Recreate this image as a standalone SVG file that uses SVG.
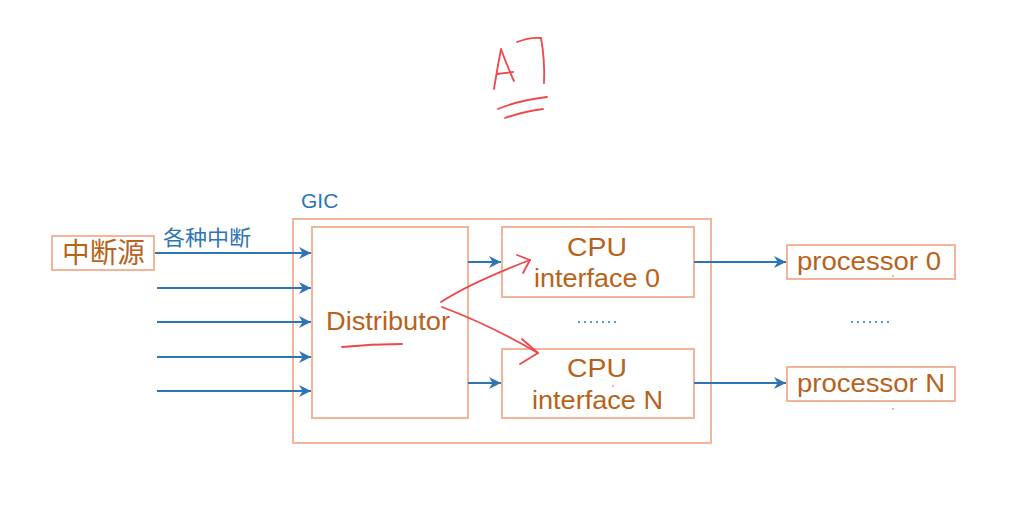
<svg xmlns="http://www.w3.org/2000/svg" width="1024" height="510" viewBox="0 0 1024 510">
<style>
.box{fill:#fff;stroke:#F4B49A;stroke-width:2}
.t{font-family:"Liberation Sans",Arial,sans-serif;fill:#B8621B;font-size:25px}
.cn{font-family:"Noto Sans CJK SC","Liberation Sans",sans-serif;fill:#B8621B;font-size:28px}
.lbl{font-family:"Noto Sans CJK SC","Liberation Sans",sans-serif;fill:#2E75B6;font-size:21px}
.conn{stroke:#2E75B6;stroke-width:2;fill:none;marker-end:url(#ah)}
.dots{stroke:#2E75B6;stroke-width:1.6;stroke-dasharray:2 4;fill:none}
.hand{stroke:#F0474A;stroke-width:1.8;fill:none;stroke-linecap:round;stroke-linejoin:round}
</style>
<defs>
<marker id="ah" viewBox="0 0 10 10" refX="10" refY="5" markerWidth="6" markerHeight="6" orient="auto" markerUnits="strokeWidth">
<path d="M0,0 L10,5 L0,10 L3,5 z" fill="#2E75B6"/>
</marker>
</defs>
<rect width="1024" height="510" fill="#fff"/>
<g id="gic">
<rect class="box" x="293" y="219" width="418" height="224"/>
<text x="301" y="208" class="lbl" style="font-family:'Liberation Sans',sans-serif">GIC</text>
</g>
<g id="source">
<rect class="box" x="52" y="236" width="102" height="34"/>
<text x="62" y="263" class="cn" textLength="83" lengthAdjust="spacingAndGlyphs">中断源</text>
</g>
<g id="distributor">
<rect class="box" x="312" y="227" width="156" height="191"/>
<text x="326" y="330" class="t" textLength="124" lengthAdjust="spacingAndGlyphs">Distributor</text>
</g>
<g id="cpu0">
<rect class="box" x="502" y="227" width="192" height="70"/>
<text x="567" y="256" class="t" textLength="60" lengthAdjust="spacingAndGlyphs">CPU</text>
<text x="534" y="287" class="t" textLength="126" lengthAdjust="spacingAndGlyphs">interface 0</text>
</g>
<g id="cpuN">
<rect class="box" x="502" y="349" width="192" height="69"/>
<text x="567" y="377" class="t" textLength="60" lengthAdjust="spacingAndGlyphs">CPU</text>
<text x="532" y="409" class="t" textLength="131" lengthAdjust="spacingAndGlyphs">interface N</text>
</g>
<g id="proc0">
<rect class="box" x="787" y="245" width="168" height="34"/>
<text x="797" y="270" class="t" textLength="144" lengthAdjust="spacingAndGlyphs">processor 0</text>
</g>
<g id="procN">
<rect class="box" x="787" y="367" width="168" height="34"/>
<text x="797" y="392" class="t" textLength="148" lengthAdjust="spacingAndGlyphs">processor N</text>
</g>
<g id="connectors">
<text x="163" y="245" class="lbl" textLength="88" lengthAdjust="spacingAndGlyphs">各种中断</text>
<line class="conn" x1="155" y1="253" x2="311" y2="253"/>
<line class="conn" x1="157" y1="288" x2="311" y2="288"/>
<line class="conn" x1="157" y1="322" x2="311" y2="322"/>
<line class="conn" x1="157" y1="357" x2="311" y2="357"/>
<line class="conn" x1="157" y1="391" x2="311" y2="391"/>
<line class="conn" x1="468" y1="262" x2="501" y2="262"/>
<line class="conn" x1="468" y1="383" x2="501" y2="383"/>
<line class="conn" x1="694" y1="262" x2="786" y2="262"/>
<line class="conn" x1="694" y1="383" x2="786" y2="383"/>
<line class="dots" x1="578" y1="322" x2="616" y2="322"/>
<line class="dots" x1="851" y1="322" x2="890" y2="322"/>
</g>
<g id="annotations">
<path class="hand" d="M494,89 Q497,70 501,49 Q507,66 514,81"/>
<path class="hand" d="M497,74 L513,72"/>
<path class="hand" d="M517,42 Q530,37 541,38 Q545,60 544,83"/>
<path class="hand" d="M498,109 Q520,100 547,97"/>
<path class="hand" d="M505,118 Q525,111 543,109"/>
<path class="hand" d="M342,347 Q372,344 402,344"/>
<path class="hand" d="M441,302 Q470,283 530,260"/>
<path class="hand" d="M517,255 L530,260 L523,273"/>
<path class="hand" d="M442,307 Q490,325 538,353"/>
<path class="hand" d="M522,339 L538,353 L520,364"/>
<circle cx="613" cy="386" r="0.8" fill="#F0474A"/>
<circle cx="893" cy="276" r="0.8" fill="#F0474A"/>
<circle cx="893" cy="409" r="0.8" fill="#F0474A"/>
</g>
</svg>
